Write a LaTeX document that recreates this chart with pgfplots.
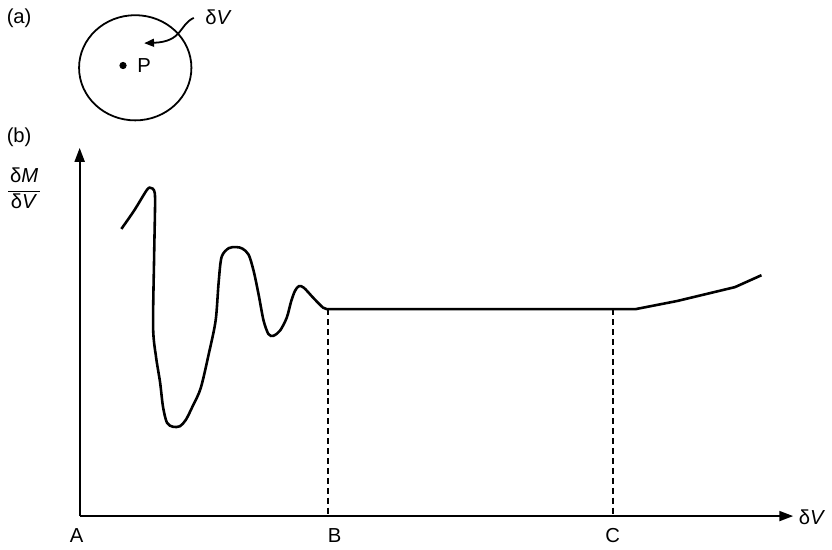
\documentclass[border=0pt]{standalone}
\usepackage{pgfplots}
\pgfplotsset{compat=1.18}
\usepackage{fontspec}
\setmainfont{Liberation Sans}
\usetikzlibrary{arrows.meta}
\begin{document}
\fontsize{10.2}{12}\selectfont
\begin{tikzpicture}
\begin{axis}[hide axis, x=0.5pt, y=0.5pt, xmin=0, xmax=832, ymin=0, ymax=547, clip=false, scale only axis]
\path (axis cs:0,0) rectangle (axis cs:832,547);
% axes
\draw[line width=1pt, -{Triangle[length=7pt,width=5pt]}] (axis cs:78,27) -- (axis cs:797,27);
\draw[line width=1pt, -{Triangle[length=7pt,width=5pt]}] (axis cs:78,27) -- (axis cs:78,398);
% curve
\addplot[black, line width=1.3pt, smooth, tension=0.5] coordinates {
(120,316.3) (133,335) (146,356) (150,357.5) (153,355) (154,344) (153,287)
(152,217) (155,187) (159,162) (162,137) (166,121) (172,117)
(179,117.5) (185,124) (192,138) (200,156) (208,190) (215,224)
(218,262) (221,288) (228.3,297) (236,298) (242,296.5)
(248.3,290.3) (253.3,274) (258.3,250.3) (263.3,224) (268.3,210.3) (273.3,208.7)
(280,214) (286.7,227) (291,243) (295,254) (299,258.7) (304,257) (313.3,247)
(323.3,237) (328.3,235.5)
};
\addplot[black, line width=1.3pt] coordinates {
(328.3,235.5) (638,235.5) (680,243.7) (738.3,257.7) (765,269.7)
};
% dashed verticals
\addplot[black, line width=0.9pt, dash pattern=on 3pt off 2pt] coordinates {(328.3,235.5) (328.3,27)};
\addplot[black, line width=0.9pt, dash pattern=on 3pt off 2pt] coordinates {(615,235.5) (615,27)};
% labels
\node at (axis cs:75,7) {A};
\node at (axis cs:335,7) {B};
\node at (axis cs:615,7) {C};
\node at (axis cs:816,26) {δ\textit{V}};
\node[inner sep=0pt] at (axis cs:22,355) {\setlength{\tabcolsep}{1pt}\renewcommand{\arraystretch}{1.0}\begin{tabular}{c}δ\textit{M}\\[1pt]\hline δ\textit{V}\end{tabular}};
\node at (axis cs:17,529) {(a)};
\node at (axis cs:17,409) {(b)};
% diagram (a)
\draw[line width=0.9pt] (axis cs:134,478.7) ellipse [x radius=28.3pt, y radius=26.5pt];
\addplot[only marks, mark=*, mark size=1.6pt, black] coordinates {(121.7,481)};
\node at (axis cs:143,481) {P};
\node at (axis cs:218,530) {δ\textit{V}};
\draw[line width=0.9pt, -{Triangle[length=5pt,width=4pt]}] (axis cs:193,529) .. controls (axis cs:178,522) and (axis cs:182,505) .. (axis cs:143,503.5);
\end{axis}
\end{tikzpicture}
\end{document}
